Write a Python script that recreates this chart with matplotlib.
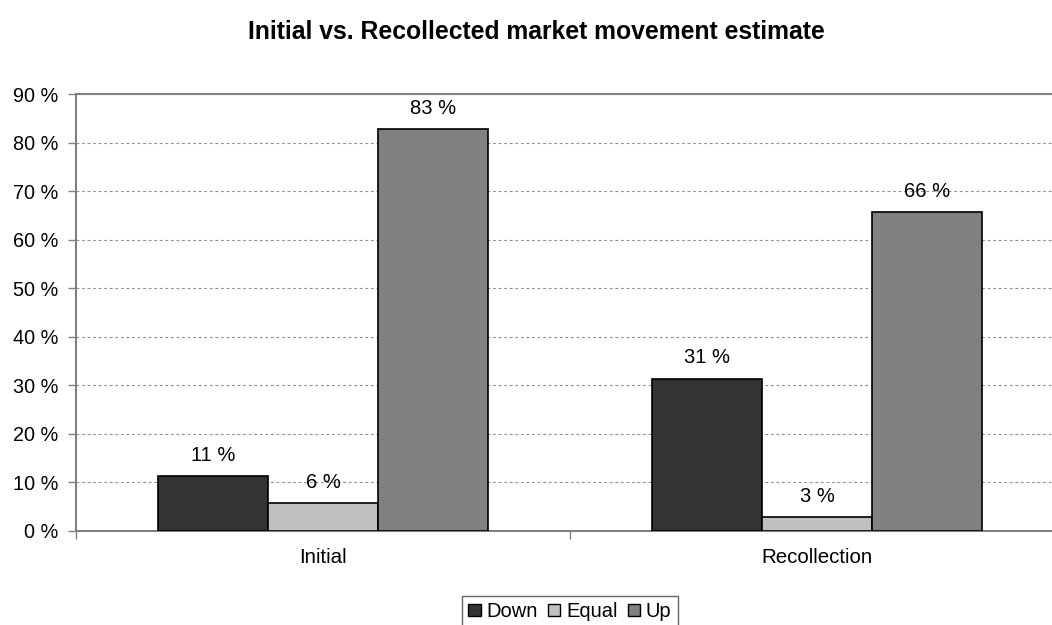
import matplotlib
matplotlib.use("Agg")
import matplotlib.pyplot as plt
import numpy as np
from matplotlib.patches import Patch

plt.rcParams['font.family'] = ['Liberation Sans', 'DejaVu Sans']

categories = ["Initial", "Recollection"]
series_names = ["Down", "Equal", "Up"]
down_values = [11.4, 31.4]
equal_values = [5.8, 2.9]
up_values = [82.8, 65.7]
y_tick_values = list(range(0, 100, 10))
title_text = "Initial vs. Recollected market movement estimate"

colors = ["#333333", "#c0c0c0", "#808080"]

fig = plt.figure(figsize=(10.52, 6.25), dpi=100)
ax = fig.add_axes([76 / 1052, 94 / 625, 988 / 1052, 437 / 625])

x = np.arange(len(categories))
width = 0.223
series = [down_values, equal_values, up_values]
for i, (name, vals, col) in enumerate(zip(series_names, series, colors)):
    xs = x + (i - 1) * width
    bars = ax.bar(xs, vals, width=width, color=col, edgecolor="black",
                  linewidth=1.2, label=name, zorder=3)
    for b, v in zip(bars, vals):
        ax.annotate(f"{v:.0f} %", (b.get_x() + b.get_width() / 2, v),
                    xytext=(0, 8), textcoords="offset points",
                    ha="center", va="bottom", fontsize=14.5, zorder=4)

ax.set_xlim(-0.5, 1.5)
ax.set_ylim(0, 90)
ax.set_yticks(y_tick_values)
ax.set_yticklabels([f"{v} %" for v in y_tick_values])
ax.set_xticks(x)
ax.set_xticklabels(categories)
ax.set_xticks([-0.5, 0.5, 1.5], minor=True)
ax.tick_params(axis="x", which="major", length=0, pad=12, labelsize=14.8)
ax.tick_params(axis="x", which="minor", length=6, color="#808080", width=1)
ax.tick_params(axis="y", length=6, color="#808080", width=1, labelsize=14.3, pad=7)

for yv in y_tick_values[1:-1]:
    ax.axhline(yv, color="#909090", linestyle=(0, (2.5, 2.5)), linewidth=0.8, zorder=1)

for side in ["left", "bottom", "top"]:
    ax.spines[side].set_color("#808080")
    ax.spines[side].set_linewidth(1.5)
ax.spines["right"].set_visible(False)

fig.text(0.5 * (245 + 828) / 1052, 1 - 32 / 625, title_text, ha="center", va="center",
         fontsize=17.8, fontweight="bold")

handles = [Patch(facecolor=c, edgecolor="black", linewidth=1.0) for c in colors]
leg = fig.legend(handles, series_names, loc="upper center",
                 bbox_to_anchor=(570 / 1052, (625 - 596) / 625),
                 ncol=3, fontsize=14.5, frameon=True, fancybox=False,
                 handlelength=0.6, handleheight=0.6, handletextpad=0.3,
                 columnspacing=0.5, borderpad=0.3, borderaxespad=0)
leg.get_frame().set_edgecolor("#404040")
leg.get_frame().set_linewidth(1.0)

fig.savefig("out.png", dpi=100)
